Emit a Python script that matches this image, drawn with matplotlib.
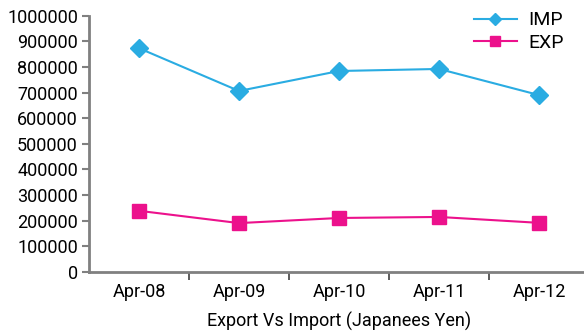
import matplotlib.pyplot as plt

months = ['Apr-08', 'Apr-09', 'Apr-10', 'Apr-11', 'Apr-12']
imp = [873000, 706000, 784000, 792000, 690000]
exp = [238000, 190000, 210000, 214000, 191000]
yticks = list(range(0, 1000001, 100000))

plt.rcParams['font.family'] = ['Roboto', 'DejaVu Sans']

fig = plt.figure(figsize=(5.84, 3.31), dpi=100)
ax = fig.add_axes([0.1524, 0.179, 0.8562, 0.7736])

x = list(range(len(months)))
ax.plot(x, imp, color='#2AACE2', marker='D', markersize=9, lw=1.5, label='IMP')
ax.plot(x, exp, color='#EC118C', marker='s', markersize=10, lw=1.5, label='EXP')

ax.set_ylim(0, 1000000)
ax.set_xlim(-0.5, 4.5)
ax.set_yticks(yticks)
ax.set_yticklabels([str(v) for v in yticks])
ax.tick_params(axis='y', labelsize=13, length=5, width=1.5, color='#808080', pad=3)
ax.set_xticks(x)
ax.set_xticklabels(months)
ax.set_xticks([i + 0.5 for i in range(4)], minor=True)
ax.tick_params(axis='x', which='major', length=0, labelsize=13, pad=8)
ax.tick_params(axis='x', which='minor', length=6, width=1.2, color='#404040')

for s in ['top', 'right']:
    ax.spines[s].set_visible(False)
for s in ['left', 'bottom']:
    ax.spines[s].set_color('#808080')
    ax.spines[s].set_linewidth(2)

ax.set_xlabel('Export Vs Import (Japanees Yen)', fontsize=13, labelpad=8)
ax.legend(loc='upper right', bbox_to_anchor=(0.985, 1.085), frameon=False, fontsize=14,
          handlelength=2.2, labelspacing=0.25, handletextpad=0.6, markerscale=0.7)

fig.savefig('out.png', dpi=100)
